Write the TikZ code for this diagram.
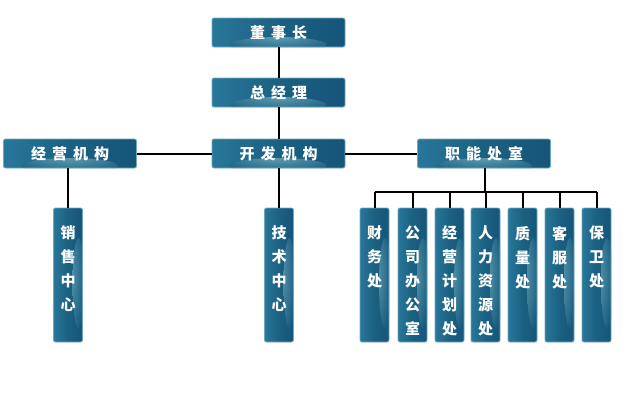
\documentclass[tikz,border=0pt]{standalone}
\usepackage{fontspec}
\newfontfamily\cjk{Noto Sans CJK SC}
\definecolor{boxfill}{HTML}{1B6081}
\definecolor{boxleft}{HTML}{28779A}
\definecolor{boxright}{HTML}{15557A}
\definecolor{boxedge}{HTML}{6FA9C0}
\definecolor{glow}{HTML}{8CC6D6}
\newcommand\gp{\hspace{6pt}}
\newcommand\vtext[1]{\parbox[c][134pt][t]{29pt}{\vspace*{18pt}\centering #1}}
\tikzset{
  box/.style={draw=boxedge, line width=0.8pt, rounded corners=2pt,
    inner sep=0pt, text=white, font=\cjk\bfseries\fontsize{15}{24}\selectfont},
  hbox/.style={box, minimum width=133pt, minimum height=29pt,
    left color=boxleft, right color=boxright, middle color=boxfill,
    path picture={\shade[inner color=glow!70!boxfill, outer color=boxfill, opacity=0.9]
      ([yshift=2pt]path picture bounding box.south) ellipse [x radius=48pt, y radius=8pt];}},
  vbox/.style={box, minimum width=29pt, minimum height=134pt,
    left color=boxleft, right color=boxright, middle color=boxfill,
    path picture={\shade[inner color=glow!70!boxfill, outer color=boxfill, opacity=0.8]
      ([xshift=-4pt,yshift=-8pt]path picture bounding box.east) ellipse [x radius=6pt, y radius=45pt];}},
  link/.style={line width=2pt, black}
}
\begin{document}
\begin{tikzpicture}[x=1pt,y=-1pt]
\useasboundingbox[fill=white] (0,0) rectangle (630,400);
\node[hbox] (dsz) at (278.5,32.5) {董\gp 事\gp 长};
\node[hbox] (zjl) at (278.5,92.5) {总\gp 经\gp 理};
\node[hbox] (jyjg) at (70,153.5) {经\gp 营\gp 机\gp 构};
\node[hbox] (kfjg) at (278.5,153.5) {开\gp 发\gp 机\gp 构};
\node[hbox] (znsc) at (484,153.5) {职\gp 能\gp 处\gp 室};
\node[vbox] (xszx) at (68,275) {\vtext{销\\售\\中\\心}};
\node[vbox] (jszx) at (279,275) {\vtext{技\\术\\中\\心}};
\node[vbox] (c1) at (374.5,275) {\vtext{财\\务\\处}};
\node[vbox] (c2) at (412.5,275) {\vtext{公\\司\\办\\公\\室}};
\node[vbox] (c3) at (449.5,275) {\vtext{经\\营\\计\\划\\处}};
\node[vbox] (c4) at (485.5,275) {\vtext{人\\力\\资\\源\\处}};
\node[vbox] (c5) at (522.5,275) {\vtext{质\\量\\处}};
\node[vbox] (c6) at (559.5,275) {\vtext{客\\服\\处}};
\node[vbox] (c7) at (596.5,275) {\vtext{保\\卫\\处}};
\coordinate (bus) at (485,192);
\draw[link] (dsz.south) -- (zjl.north);
\draw[link] (zjl.south) -- (kfjg.north);
\draw[link] (jyjg.east) -- (kfjg.west);
\draw[link] (kfjg.east) -- (znsc.west);
\draw[link] (jyjg.south -| xszx.north) -- (xszx.north);
\draw[link] (kfjg.south -| jszx.north) -- (jszx.north);
\draw[link] (znsc.south -| bus) -- (bus);
\draw[link] (c1.north |- bus) -- (c7.north |- bus);
\foreach \c in {c1,c2,c3,c4,c5,c6,c7}{
  \draw[link] (\c.north |- bus) -- (\c.north);
}
\end{tikzpicture}
\end{document}
